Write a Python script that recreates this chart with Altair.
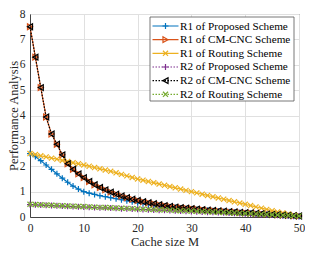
import altair as alt
import pandas as pd

cache_m = list(range(51))

r1_proposed = [2.5, 2.38, 2.22, 2.05, 1.88, 1.7, 1.53, 1.37, 1.22, 1.1,
               1.0, 0.94, 0.89, 0.84, 0.8, 0.76, 0.72, 0.68, 0.64, 0.6,
               0.56, 0.53, 0.5, 0.47, 0.44, 0.41, 0.39, 0.37, 0.35, 0.33,
               0.31, 0.295, 0.28, 0.265, 0.25, 0.235, 0.22, 0.205, 0.19, 0.175,
               0.16, 0.145, 0.13, 0.115, 0.1, 0.09, 0.075, 0.06, 0.045, 0.03, 0.02]
r1_cmcnc = [7.5, 6.3, 5.1, 3.94, 3.27, 2.87, 2.45, 2.1, 1.88, 1.7,
            1.55, 1.4, 1.27, 1.16, 1.07, 0.98, 0.9, 0.83, 0.76, 0.7,
            0.65, 0.6, 0.56, 0.52, 0.48, 0.45, 0.42, 0.39, 0.37, 0.35,
            0.33, 0.31, 0.29, 0.27, 0.255, 0.24, 0.225, 0.21, 0.195, 0.18,
            0.17, 0.155, 0.14, 0.13, 0.115, 0.1, 0.09, 0.075, 0.065, 0.05, 0.04]
r1_routing = [2.5, 2.46, 2.41, 2.37, 2.32, 2.28, 2.23, 2.19, 2.14, 2.1,
              2.05, 2.0, 1.95, 1.9, 1.85, 1.8, 1.74, 1.68, 1.62, 1.56,
              1.5, 1.45, 1.4, 1.35, 1.3, 1.25, 1.2, 1.15, 1.1, 1.05,
              1.0, 0.95, 0.9, 0.85, 0.8, 0.75, 0.7, 0.65, 0.6, 0.55,
              0.5, 0.45, 0.4, 0.35, 0.3, 0.25, 0.2, 0.16, 0.12, 0.08, 0.04]
r2_proposed = [0.49, 0.48, 0.47, 0.46, 0.45, 0.44, 0.43, 0.42, 0.41, 0.4,
               0.395, 0.385, 0.375, 0.365, 0.36, 0.35, 0.34, 0.33, 0.325, 0.315,
               0.305, 0.295, 0.29, 0.28, 0.27, 0.265, 0.255, 0.245, 0.235, 0.23,
               0.22, 0.21, 0.2, 0.19, 0.185, 0.175, 0.165, 0.155, 0.145, 0.135,
               0.125, 0.115, 0.105, 0.095, 0.085, 0.075, 0.065, 0.055, 0.045, 0.035, 0.025]
r2_cmcnc = [7.5, 6.3, 5.1, 3.94, 3.27, 2.87, 2.45, 2.1, 1.88, 1.7,
            1.55, 1.4, 1.27, 1.16, 1.07, 0.98, 0.9, 0.83, 0.76, 0.7,
            0.65, 0.6, 0.56, 0.52, 0.48, 0.45, 0.42, 0.39, 0.37, 0.35,
            0.33, 0.31, 0.29, 0.27, 0.255, 0.24, 0.225, 0.21, 0.195, 0.18,
            0.17, 0.155, 0.14, 0.13, 0.115, 0.1, 0.09, 0.075, 0.065, 0.05, 0.04]
r2_routing = [0.5, 0.49, 0.48, 0.47, 0.46, 0.45, 0.44, 0.435, 0.425, 0.415,
              0.41, 0.4, 0.39, 0.38, 0.375, 0.365, 0.355, 0.345, 0.34, 0.33,
              0.32, 0.31, 0.305, 0.295, 0.285, 0.28, 0.27, 0.26, 0.25, 0.245,
              0.235, 0.225, 0.215, 0.205, 0.2, 0.19, 0.18, 0.17, 0.16, 0.15,
              0.14, 0.13, 0.12, 0.11, 0.1, 0.09, 0.08, 0.07, 0.06, 0.05, 0.04]

names = ["R1 of Proposed Scheme", "R1 of CM-CNC Scheme", "R1 of Routing Scheme",
         "R2 of Proposed Scheme", "R2 of CM-CNC Scheme", "R2 of Routing Scheme"]
series = [r1_proposed, r1_cmcnc, r1_routing, r2_proposed, r2_cmcnc, r2_routing]
colors = ["#0072BD", "#D95319", "#EDB120", "#7E2F8E", "#000000", "#77AC30"]
PLUS = "M-1,0L1,0M0,-1L0,1"
XS = "M-1,-1L1,1M-1,1L1,-1"
shapes = [PLUS, "triangle-right", XS, PLUS, "triangle-left", XS]
sizes = [36, 34, 26, 36, 34, 26]
dashes = [[1, 0], [1, 0], [1, 0], [1.5, 1.5], [1.5, 1.5], [1.5, 1.5]]

FONT = "Liberation Serif"
x_enc = alt.X("M:Q", scale=alt.Scale(domain=[0, 50], nice=False),
              axis=alt.Axis(title="Cache size M", values=[0, 10, 20, 30, 40, 50]))
y_enc = alt.Y("v:Q", scale=alt.Scale(domain=[0, 8], nice=False),
              axis=alt.Axis(title="Performance Analysis", values=list(range(9))))

layers = []
for name, vals, color, shape, size, dash in zip(names, series, colors, shapes, sizes, dashes):
    df = pd.DataFrame({"M": cache_m, "v": vals})
    layers.append(alt.Chart(df).mark_line(color=color, strokeWidth=1.2, strokeDash=dash)
                  .encode(x=x_enc, y=y_enc))
    layers.append(alt.Chart(df).mark_point(shape=shape, color=color, filled=False,
                                           size=size, strokeWidth=1.2, opacity=1)
                  .encode(x=x_enc, y=y_enc))

# legend (inside the plot, top-right)
one = pd.DataFrame({"a": [0]})
box = alt.Chart(one).mark_rect(fill="white", stroke="#555555", strokeWidth=0.8).encode(
    x=alt.value(120), x2=alt.value(264), y=alt.value(3), y2=alt.value(87))
layers.append(box)
for i, (name, color, shape, size, dash) in enumerate(zip(names, colors, shapes, sizes, dashes)):
    ry = 12 + i * 13.66
    layers.append(alt.Chart(one).mark_rule(color=color, strokeWidth=1.2, strokeDash=dash).encode(
        x=alt.value(122.5), x2=alt.value(148.5), y=alt.value(ry)))
    layers.append(alt.Chart(one).mark_point(shape=shape, color=color, filled=False,
                                            size=size, strokeWidth=1.2, opacity=1).encode(
        x=alt.value(135.5), y=alt.value(ry)))
    layers.append(alt.Chart(one).mark_text(text=name, font=FONT, fontSize=11.2, color="#000000",
                                           align="left", baseline="middle").encode(
        x=alt.value(150), y=alt.value(ry + 0.5)))

chart = alt.layer(*layers).properties(
    width=269, height=203,
    autosize=alt.AutoSizeParams(type="none"),
    padding={"left": 22, "top": 6, "right": 6, "bottom": 30},
).configure_view(stroke="#444444", strokeWidth=1).configure_axis(
    labelFont=FONT, titleFont=FONT, labelFontSize=11.5, titleFontSize=12.5,
    labelColor="#262626", titleColor="#262626", titleFontWeight="normal",
    gridColor="#e0e0e0", gridWidth=1, domainColor="#444444", ticks=False,
    labelPadding=5, labelFlush=False,
).configure_axisX(titleY=28, titleBaseline="alphabetic").configure_axisY(
    titleX=-12.5, titleBaseline="alphabetic")

chart.save("out.html", embed_options={"renderer": "svg", "actions": False})
